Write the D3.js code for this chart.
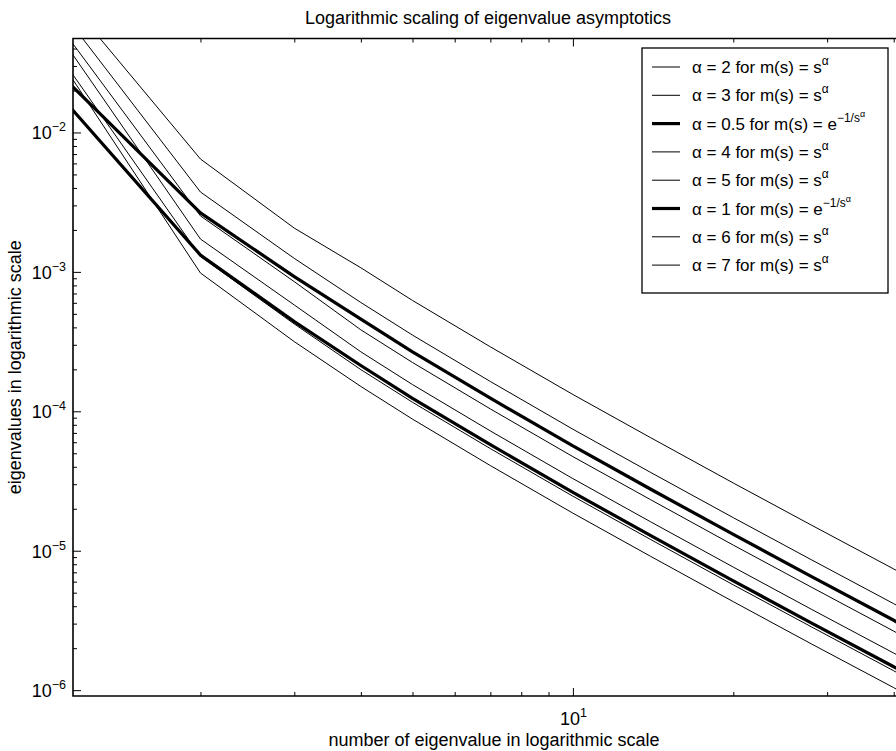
<!DOCTYPE html>
<html>
<head>
<meta charset="utf-8">
<script src="https://cdn.jsdelivr.net/npm/d3@7"></script>
<style>
  body { margin: 0; background: #fff; }
  text { font-family: "Liberation Sans", Arial, Helvetica, sans-serif; fill: #000; }
</style>
</head>
<body>
<svg id="chart" width="896" height="751"></svg>
<script>
// eigenvalue index n
const indices = [1, 2, 3, 4, 5, 7, 10, 14, 20, 28, 40, 42];

// eigenvalues for the weight m(s) = s^alpha
const powAlpha2 = [0.155, 6.45e-3, 2.06e-3, 1.07e-3, 6.24e-4, 2.90e-4, 1.32e-4, 6.46e-5, 3.06e-5, 1.53e-5, 7.40e-6, 6.68e-6];
const powAlpha3 = [0.118, 3.74e-3, 1.25e-3, 6.03e-4, 3.52e-4, 1.636e-4, 7.44e-5, 3.64e-5, 1.726e-5, 8.63e-6, 4.17e-6, 3.77e-6];
const powAlpha4 = [0.090, 2.52e-3, 8.51e-4, 3.84e-4, 2.24e-4, 1.04e-4, 4.73e-5, 2.32e-5, 1.097e-5, 5.49e-6, 2.65e-6, 2.39e-6];
const powAlpha5 = [0.0789, 1.72e-3, 5.79e-4, 2.67e-4, 1.555e-4, 7.23e-5, 3.29e-5, 1.61e-5, 7.63e-6, 3.81e-6, 1.844e-6, 1.665e-6];
const powAlpha6 = [0.0562, 1.29e-3, 4.23e-4, 1.99e-4, 1.161e-4, 5.40e-5, 2.46e-5, 1.202e-5, 5.69e-6, 2.85e-6, 1.377e-6, 1.243e-6];
const powAlpha7 = [0.0544, 9.82e-4, 3.16e-4, 1.507e-4, 8.79e-5, 4.08e-5, 1.86e-5, 9.10e-6, 4.31e-6, 2.15e-6, 1.042e-6, 9.41e-7];
// eigenvalues for the weight m(s) = exp(-1/s^alpha)
const expAlpha05 = [0.0363, 2.65e-3, 9.25e-4, 4.58e-4, 2.67e-4, 1.241e-4, 5.65e-5, 2.76e-5, 1.31e-5, 6.55e-6, 3.17e-6, 2.86e-6];
const expAlpha1 = [0.0267, 1.32e-3, 4.40e-4, 2.13e-4, 1.24e-4, 5.77e-5, 2.62e-5, 1.284e-5, 6.08e-6, 3.04e-6, 1.471e-6, 1.328e-6];

// legend order
const seriesList = [
  { alpha: "2",   kind: "pow", values: powAlpha2 },
  { alpha: "3",   kind: "pow", values: powAlpha3 },
  { alpha: "0.5", kind: "exp", values: expAlpha05 },
  { alpha: "4",   kind: "pow", values: powAlpha4 },
  { alpha: "5",   kind: "pow", values: powAlpha5 },
  { alpha: "1",   kind: "exp", values: expAlpha1 },
  { alpha: "6",   kind: "pow", values: powAlpha6 },
  { alpha: "7",   kind: "pow", values: powAlpha7 }
];

const xMajorTicks = [10];
const xMinorTicks = [2, 3, 4, 5, 6, 7, 8, 9, 20, 30, 40];
const yMajorExponents = [-6, -5, -4, -3, -2];

const titleText = "Logarithmic scaling of eigenvalue asymptotics";
const xLabelText = "number of eigenvalue in logarithmic scale";
const yLabelText = "eigenvalues in logarithmic scale";

// ---- layout ----
const svg = d3.select("#chart");
const plot = { left: 73, right: 905, top: 38.5, bottom: 696 };
const fontSize = 18;

const x = d3.scaleLog().domain([1.153, 42]).range([plot.left, plot.right]);
const y = d3.scaleLog().domain([Math.pow(10, -6.042), Math.pow(10, -1.326)]).range([plot.bottom, plot.top]);

const yMajorTicks = yMajorExponents.map(e => Math.pow(10, e));
const yMinorTicks = [];
for (let e = -7; e <= -1; e++) {
  for (let k = 2; k <= 9; k++) {
    const v = k * Math.pow(10, e);
    if (v >= y.domain()[0] && v <= y.domain()[1]) yMinorTicks.push(v);
  }
}

svg.append("defs").append("clipPath").attr("id", "plotClip")
  .append("rect")
  .attr("x", plot.left).attr("y", plot.top)
  .attr("width", plot.right - plot.left).attr("height", plot.bottom - plot.top);

// ---- data lines ----
const line = d3.line()
  .x((d, i) => x(indices[i]))
  .y(d => y(d));

svg.append("g").attr("clip-path", "url(#plotClip)")
  .selectAll("path")
  .data(seriesList)
  .join("path")
  .attr("d", d => line(d.values))
  .attr("fill", "none")
  .attr("stroke", "#000")
  .attr("stroke-width", d => d.kind === "exp" ? 3.2 : 1)
  .attr("stroke-linejoin", "round");

// ---- axes (ticks point inward) ----
function styleAxis(g) {
  g.select(".domain").remove();
  g.selectAll(".tick line").attr("stroke", "#000").attr("stroke-width", 1);
  g.selectAll(".tick text").remove();
}

const axisB = (vals, len) => d3.axisBottom(x).tickValues(vals).tickSize(-len).tickSizeOuter(0).tickFormat("");
const axisT = (vals, len) => d3.axisTop(x).tickValues(vals).tickSize(-len).tickSizeOuter(0).tickFormat("");
const axisL = (vals, len) => d3.axisLeft(y).tickValues(vals).tickSize(-len).tickSizeOuter(0).tickFormat("");

svg.append("g").attr("transform", `translate(0,${plot.bottom})`).call(axisB(xMajorTicks, 8)).call(styleAxis);
svg.append("g").attr("transform", `translate(0,${plot.bottom})`).call(axisB(xMinorTicks, 4)).call(styleAxis);
svg.append("g").attr("transform", `translate(0,${plot.top})`).call(axisT(xMajorTicks, 8)).call(styleAxis);
svg.append("g").attr("transform", `translate(0,${plot.top})`).call(axisT(xMinorTicks, 4)).call(styleAxis);
svg.append("g").attr("transform", `translate(${plot.left},0)`).call(axisL(yMajorTicks, 8)).call(styleAxis);
svg.append("g").attr("transform", `translate(${plot.left},0)`).call(axisL(yMinorTicks, 4)).call(styleAxis);

// frame
svg.append("path")
  .attr("d", `M${plot.right},${plot.top}H${plot.left}V${plot.bottom}H${plot.right}`)
  .attr("fill", "none").attr("stroke", "#000").attr("stroke-width", 1.6);

// ---- tick labels with exponent superscripts ----
const yLab = svg.append("g");
yMajorExponents.forEach(e => {
  const t = yLab.append("text")
    .attr("x", plot.left - 7)
    .attr("y", y(Math.pow(10, e)) + 7)
    .attr("text-anchor", "end")
    .style("font-size", fontSize + "px");
  t.append("tspan").text("10");
  t.append("tspan").attr("dy", -8).style("font-size", "12.5px").text("\u2212" + Math.abs(e));
});

xMajorTicks.forEach(v => {
  const t = svg.append("text")
    .attr("x", x(v) - 13)
    .attr("y", 725)
    .style("font-size", fontSize + "px");
  t.append("tspan").text("10");
  t.append("tspan").attr("dy", -8).style("font-size", "12.5px").text(Math.round(Math.log10(v)));
});

// ---- title and axis labels ----
svg.append("text").attr("x", 488).attr("y", 24).attr("text-anchor", "middle")
  .style("font-size", fontSize + "px").text(titleText);
svg.append("text").attr("x", 494).attr("y", 746).attr("text-anchor", "middle")
  .style("font-size", fontSize + "px").text(xLabelText);
svg.append("text").attr("transform", `translate(21,${(plot.top + plot.bottom) / 2}) rotate(-90)`)
  .attr("text-anchor", "middle")
  .style("font-size", fontSize + "px").text(yLabelText);

// ---- legend ----
const legend = { x: 642, y: 48, w: 246, h: 245, rowY0: 67, rowStep: 28.3 };
const lg = svg.append("g");
lg.append("rect").attr("x", legend.x).attr("y", legend.y).attr("width", legend.w).attr("height", legend.h)
  .attr("fill", "#fff").attr("stroke", "#000").attr("stroke-width", 1.3);

seriesList.forEach((s, i) => {
  const cy = legend.rowY0 + i * legend.rowStep;
  lg.append("line").attr("x1", legend.x + 10).attr("x2", legend.x + 38)
    .attr("y1", cy).attr("y2", cy)
    .attr("stroke", "#000").attr("stroke-width", s.kind === "exp" ? 3.2 : 1);
  const t = lg.append("text").attr("x", legend.x + 50).attr("y", cy + 6)
    .style("font-size", "17px");
  t.append("tspan").text(`\u03b1 = ${s.alpha} for m(s) = ${s.kind === "exp" ? "e" : "s"}`);
  if (s.kind === "exp") {
    t.append("tspan").attr("dy", -8).style("font-size", "12px").text("\u22121/s");
    t.append("tspan").attr("dy", -5).style("font-size", "9px").text("\u03b1");
  } else {
    t.append("tspan").attr("dy", -8).style("font-size", "12px").text("\u03b1");
  }
});
</script>
</body>
</html>
